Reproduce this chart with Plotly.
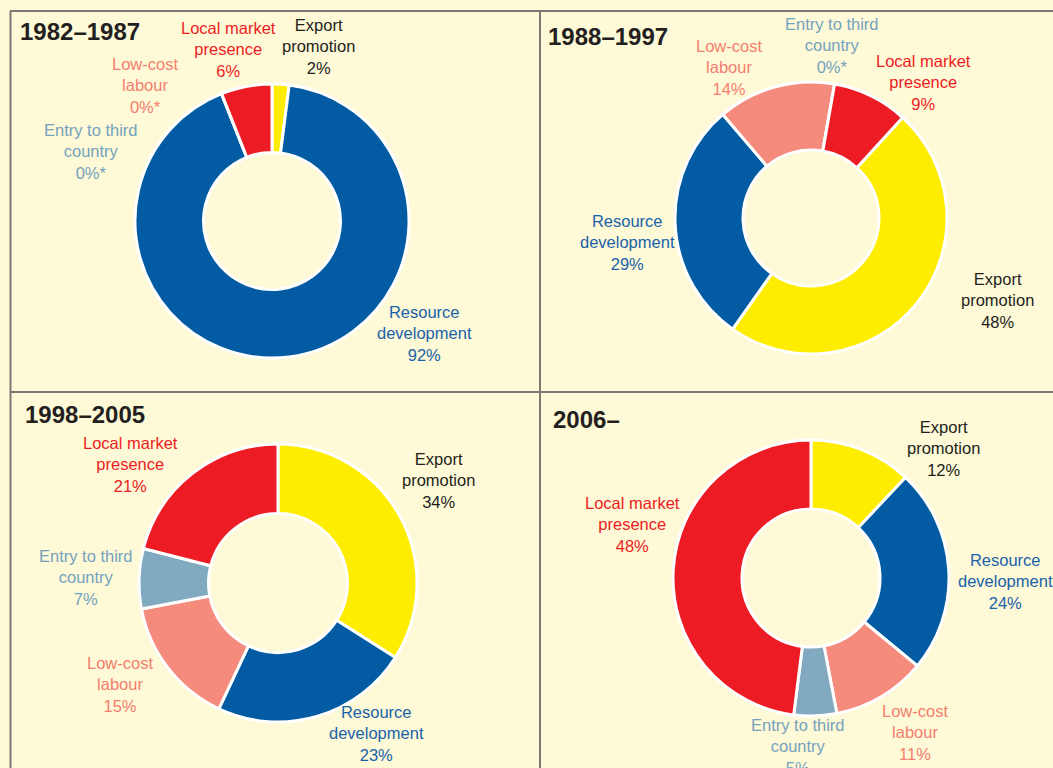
import plotly.graph_objects as go

W, H = 1053, 768

# ---- data ----
categories = ["Export promotion", "Resource development", "Low-cost labour",
              "Entry to third country", "Local market presence"]
label_lines = ["Export<br>promotion", "Resource<br>development", "Low-cost<br>labour",
               "Entry to third<br>country", "Local market<br>presence"]
periods = ["1982\u20131987", "1988\u20131997", "1998\u20132005", "2006\u2013"]
shares_1982_1987 = [2, 92, 0, 0, 6]
shares_1988_1997 = [48, 29, 14, 0, 9]
shares_1998_2005 = [34, 23, 15, 7, 21]
shares_2006 = [12, 24, 11, 5, 48]
pct_text_1982_1987 = ["2%", "92%", "0%*", "0%*", "6%"]
pct_text_1988_1997 = ["48%", "29%", "14%", "0%*", "9%"]
pct_text_1998_2005 = ["34%", "23%", "15%", "7%", "21%"]
pct_text_2006 = ["12%", "24%", "11%", "5%", "48%"]

all_shares = [shares_1982_1987, shares_1988_1997, shares_1998_2005, shares_2006]
all_texts = [pct_text_1982_1987, pct_text_1988_1997, pct_text_1998_2005, pct_text_2006]

# ---- styles / layout ----
slice_colors = ["#FFED00", "#035CA3", "#F58B7C", "#81AAC0", "#ED1C24"]
text_colors = ["#231F20", "#1A62AA", "#F47E70", "#74A2BE", "#ED1C24"]
BG = "#FEF9D6"
FONT = "Liberation Sans, Arial, Helvetica, sans-serif"

# panel geometry in pixels: donut centre, radius, rotation, title position
panels = [
    dict(cx=272, cy=221, r=137, rot=0, title=(18, 32)),
    dict(cx=811, cy=218, r=136, rot=42.4, title=(546, 36)),
    dict(cx=278, cy=583, r=139, rot=0, title=(23, 414)),
    dict(cx=811, cy=578, r=138, rot=0, title=(551, 419)),
]
# label block centres (middle line) in pixels, per category order
label_pos = [
    [(318, 46), (424, 334), (145, 86), (91, 152), (228, 50)],
    [(997, 300), (627, 242), (729, 68), (832, 45), (923, 82)],
    [(438, 480), (376, 733), (120, 684), (86, 577), (130, 464)],
    [(943, 448), (1005, 581), (915, 732), (798, 746), (632, 524)],
]


def px(x):
    return x / W


def py(y):
    return 1 - y / H


fig = go.Figure()
annotations = []
for i, p in enumerate(panels):
    fig.add_trace(go.Pie(
        values=all_shares[i],
        labels=categories,
        sort=False,
        direction="clockwise",
        rotation=p["rot"],
        hole=0.5,
        marker=dict(colors=slice_colors, line=dict(color="white", width=3)),
        textinfo="none",
        hoverinfo="label+value",
        showlegend=False,
        domain=dict(x=[px(p["cx"] - p["r"]), px(p["cx"] + p["r"])],
                    y=[py(p["cy"] + p["r"]), py(p["cy"] - p["r"])]),
    ))
    tx, ty = p["title"]
    annotations.append(dict(
        x=px(tx), y=py(ty), xref="paper", yref="paper", xanchor="left", yanchor="middle",
        text="<b>%s</b>" % periods[i], showarrow=False,
        font=dict(family=FONT, size=24, color="#231F20")))
    for k in range(len(categories)):
        lx, ly = label_pos[i][k]
        annotations.append(dict(
            x=px(lx), y=py(ly), xref="paper", yref="paper", xanchor="center", yanchor="middle",
            text=label_lines[k] + "<br>" + all_texts[i][k], showarrow=False, align="center",
            font=dict(family=FONT, size=16.5, color=text_colors[k])))

line_style = dict(color="#7A7A72", width=2)
shapes = [
    dict(type="line", xref="paper", yref="paper", x0=px(10), x1=1, y0=py(11), y1=py(11), line=line_style),
    dict(type="line", xref="paper", yref="paper", x0=px(10.5), x1=px(10.5), y0=py(11), y1=0, line=line_style),
    dict(type="line", xref="paper", yref="paper", x0=px(540), x1=px(540), y0=py(11), y1=0, line=line_style),
    dict(type="line", xref="paper", yref="paper", x0=px(10), x1=1, y0=py(392), y1=py(392), line=line_style),
]

fig.update_layout(
    width=W, height=H,
    margin=dict(l=0, r=0, t=0, b=0),
    paper_bgcolor=BG, plot_bgcolor=BG,
    annotations=annotations,
    shapes=shapes,
    font=dict(family=FONT),
)

fig.write_html("out.html",
               config={"displayModeBar": False},
               post_script="document.body.style.margin='0';document.body.style.overflow='hidden';"
                           "document.body.style.background='%s';" % BG)
